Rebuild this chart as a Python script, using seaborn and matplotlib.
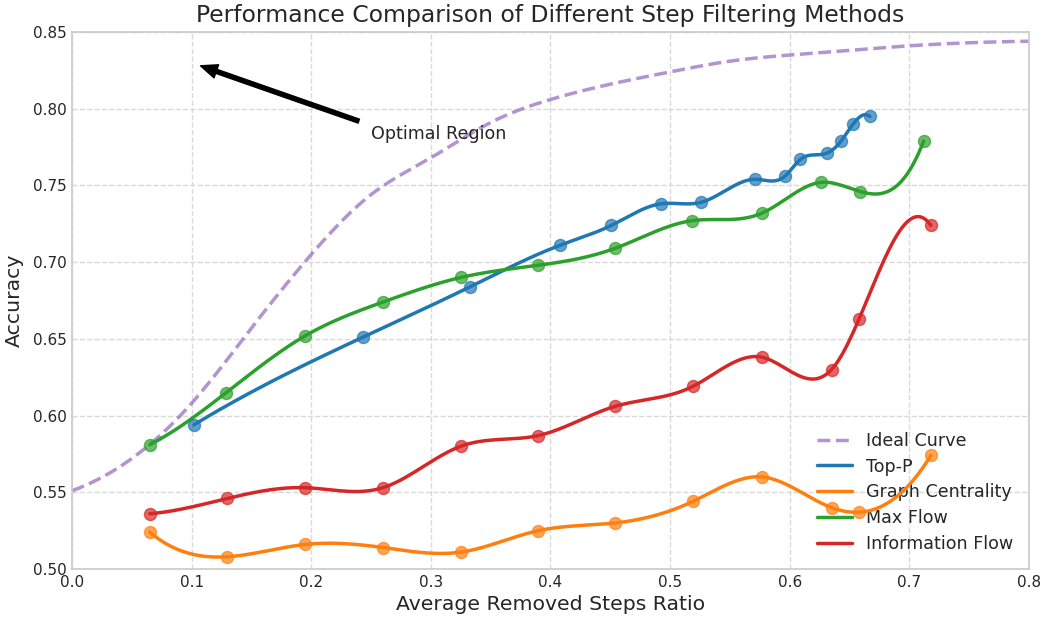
import numpy as np
import pandas as pd
import matplotlib
matplotlib.use("Agg")
import matplotlib.pyplot as plt
import seaborn as sns

# ---- data -------------------------------------------------------------
ideal_x = [0.00, 0.05, 0.10, 0.15, 0.20, 0.25, 0.30, 0.35, 0.40,
           0.45, 0.50, 0.55, 0.60, 0.65, 0.70, 0.75, 0.80]
ideal_y = [0.551, 0.572, 0.608, 0.657, 0.705, 0.744, 0.768, 0.791, 0.806,
           0.816, 0.824, 0.831, 0.835, 0.838, 0.841, 0.843, 0.844]

top_p_x = [0.102, 0.243, 0.333, 0.408, 0.451, 0.492, 0.526, 0.571,
           0.596, 0.609, 0.631, 0.643, 0.653, 0.667]
top_p_y = [0.594, 0.651, 0.684, 0.711, 0.724, 0.738, 0.739, 0.754,
           0.756, 0.767, 0.771, 0.779, 0.790, 0.795]

graph_x = [0.065, 0.130, 0.195, 0.260, 0.325, 0.390, 0.454, 0.519,
           0.577, 0.635, 0.658, 0.718]
graph_y = [0.524, 0.508, 0.516, 0.514, 0.511, 0.525, 0.530, 0.544,
           0.560, 0.540, 0.537, 0.574]

maxflow_x = [0.065, 0.129, 0.195, 0.260, 0.325, 0.390, 0.454, 0.518,
             0.577, 0.626, 0.659, 0.712]
maxflow_y = [0.581, 0.615, 0.652, 0.674, 0.690, 0.698, 0.709, 0.727,
             0.732, 0.752, 0.746, 0.779]

info_x = [0.065, 0.130, 0.195, 0.260, 0.325, 0.390, 0.454, 0.519,
          0.577, 0.635, 0.658, 0.718]
info_y = [0.536, 0.546, 0.553, 0.553, 0.580, 0.587, 0.606, 0.619,
          0.638, 0.630, 0.663, 0.724]

x_ticks = [0.0, 0.1, 0.2, 0.3, 0.4, 0.5, 0.6, 0.7, 0.8]
y_ticks = [0.50, 0.55, 0.60, 0.65, 0.70, 0.75, 0.80, 0.85]


def smooth(x, y, n=300):
    """Not-a-knot cubic spline through (x, y), sampled on n points."""
    x = np.asarray(x, float)
    y = np.asarray(y, float)
    m = len(x)
    h = np.diff(x)
    A = np.zeros((m, m))
    b = np.zeros(m)
    for i in range(1, m - 1):
        A[i, i - 1] = h[i - 1]
        A[i, i] = 2 * (h[i - 1] + h[i])
        A[i, i + 1] = h[i]
        b[i] = 6 * ((y[i + 1] - y[i]) / h[i] - (y[i] - y[i - 1]) / h[i - 1])
    A[0, 0], A[0, 1], A[0, 2] = h[1], -(h[0] + h[1]), h[0]
    A[-1, -3], A[-1, -2], A[-1, -1] = h[-1], -(h[-2] + h[-1]), h[-2]
    M = np.linalg.solve(A, b)
    t = np.linspace(x[0], x[-1], n)
    idx = np.clip(np.searchsorted(x, t) - 1, 0, m - 2)
    x0, x1 = x[idx], x[idx + 1]
    hh = x1 - x0
    s = (M[idx] * (x1 - t) ** 3 / (6 * hh)
         + M[idx + 1] * (t - x0) ** 3 / (6 * hh)
         + (y[idx] / hh - M[idx] * hh / 6) * (x1 - t)
         + (y[idx + 1] / hh - M[idx + 1] * hh / 6) * (t - x0))
    return t, s


sns.set_theme(style="whitegrid")
plt.rcParams["font.family"] = ["DejaVu Sans"]

fig = plt.figure(figsize=(10.46, 6.18), dpi=100)
ax = fig.add_axes([0.0688, 0.0793, 0.9149, 0.8689])

palette = sns.color_palette("tab10")
purple = palette[4]

# ideal reference curve
tx, ty = smooth(ideal_x, ideal_y)
sns.lineplot(x=tx, y=ty, ax=ax, color=purple, alpha=0.7, lw=2.5,
             linestyle="--", label="Ideal Curve", sort=False)

series = [
    ("Top-P", top_p_x, top_p_y, palette[0]),
    ("Graph Centrality", graph_x, graph_y, palette[1]),
    ("Max Flow", maxflow_x, maxflow_y, palette[2]),
    ("Information Flow", info_x, info_y, palette[3]),
]

for name, xs, ys, col in series:
    sx, sy = smooth(xs, ys)
    sns.lineplot(x=sx, y=sy, ax=ax, color=col, lw=2.5, label=name, sort=False)
    pts = pd.DataFrame({"x": xs, "y": ys})
    sns.scatterplot(data=pts, x="x", y="y", ax=ax, color=col, s=75,
                    alpha=0.7, edgecolor=col, linewidth=1, legend=False,
                    zorder=3)

ax.annotate("Optimal Region", xy=(0.1, 0.83), xytext=(0.25, 0.78),
            fontsize=12.6, color=".15",
            arrowprops=dict(facecolor="black", edgecolor="black",
                            shrink=0.05, width=3, headwidth=10,
                            headlength=12))

ax.set_xlim(0, 0.8)
ax.set_ylim(0.5, 0.85)
ax.set_xticks(x_ticks)
ax.set_yticks(y_ticks)
ax.set_xticklabels([f"{v:.1f}" for v in x_ticks])
ax.set_yticklabels([f"{v:.2f}" for v in y_ticks])
ax.tick_params(labelsize=11, colors=".15", length=0, pad=4)
ax.grid(True, linestyle="--", color=".85", linewidth=1)

ax.set_title("Performance Comparison of Different Step Filtering Methods",
             fontsize=16.9, color=".15", pad=7)
ax.set_xlabel("Average Removed Steps Ratio", fontsize=14.7, color=".15",
              labelpad=4)
ax.set_ylabel("Accuracy", fontsize=14.7, color=".15", labelpad=6)

leg = ax.legend(loc="lower right", frameon=False, fontsize=12.6,
                labelspacing=0.45)
leg.set_zorder(1)

fig.savefig("out.png", dpi=100)
